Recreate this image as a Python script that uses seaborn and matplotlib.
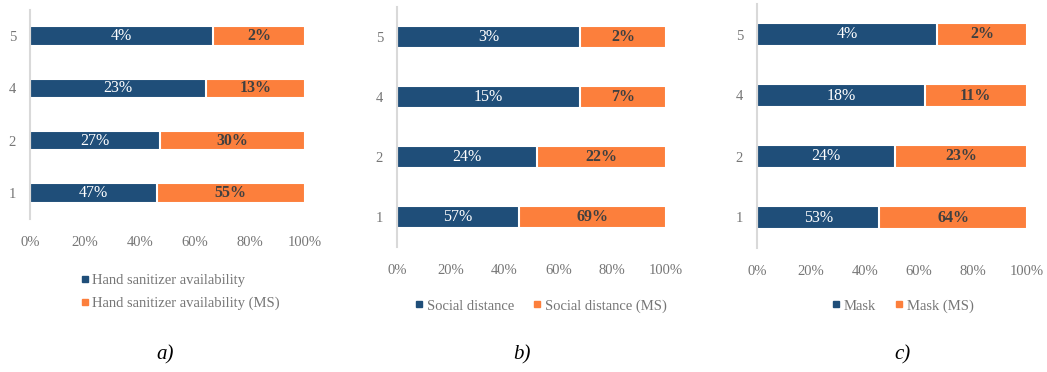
import pandas as pd
import numpy as np
import seaborn as sns
import matplotlib.pyplot as plt
from matplotlib.lines import Line2D

# 数据
ratings = ["5", "4", "2", "1"]
hand = [4, 23, 27, 47]
hand_ms = [2, 13, 30, 55]
social = [3.4, 15, 24, 57]
social_ms = [1.6, 7, 22, 69]
mask = [4, 18, 24, 53]
mask_ms = [2, 11, 23, 64]

panels = [
    ("Hand sanitizer availability", hand, hand_ms, "a)"),
    ("Social distance", social, social_ms, "b)"),
    ("Mask", mask, mask_ms, "c)"),
]

blue = "#1F4E79"
orange = "#FC7F3C"
grey_txt = "#767676"

sns.set_theme(style="white")
plt.rcParams["font.family"] = ["Liberation Serif", "DejaVu Serif"]

fig = plt.figure(figsize=(10.47, 3.72), dpi=100)

# 各子图位置 (figure 坐标)
boxes = [
    [30 / 1047, 1 - 219 / 372, 275 / 1047, 209 / 372],
    [397 / 1047, 1 - 247 / 372, 269 / 1047, 240 / 372],
    [757 / 1047, 1 - 248 / 372, 270 / 1047, 244 / 372],
]
legend_pos = [(66 / 1047, 1 - 292 / 372), (540 / 1047, 1 - 306 / 372), (902 / 1047, 1 - 306 / 372)]
caption_x = [165, 522, 902]

for i, (name, v1, v2, cap) in enumerate(panels):
    df = pd.DataFrame({"rating": ratings, "a": v1, "b": v2})
    df["share"] = df["a"] / (df["a"] + df["b"]) * 100
    df["total"] = 100.0

    ax = fig.add_axes(boxes[i])
    sns.barplot(data=df, x="total", y="rating", order=ratings, color=orange,
                width=0.37, edgecolor="white", linewidth=1.5, saturation=1, ax=ax)
    sns.barplot(data=df, x="share", y="rating", order=ratings, color=blue,
                width=0.37, edgecolor="white", linewidth=1.5, saturation=1, ax=ax)

    for j, row in df.iterrows():
        ax.text(row["share"] / 2, j, f"{row['a']:.0f}%", ha="center", va="center",
                color="white", fontsize=11.5)
        ax.text((row["share"] + 100) / 2, j, f"{row['b']:.0f}%", ha="center", va="center",
                color="#404040", fontsize=11.5, fontweight="bold")

    ax.set_xlim(0, 100)
    ax.set_xticks(np.arange(0, 101, 20))
    ax.set_xticklabels([f"{t}%" for t in range(0, 101, 20)])
    ax.set(xlabel=None, ylabel=None)
    ax.tick_params(axis="both", colors=grey_txt, labelsize=10.5, length=0)
    ax.tick_params(axis="x", pad=12)
    ax.tick_params(axis="y", pad=10)
    for s in ["top", "right", "bottom"]:
        ax.spines[s].set_visible(False)
    ax.spines["left"].set_color("#D9D9D9")
    ax.spines["left"].set_linewidth(1.5)

    handles = [
        Line2D([], [], marker="s", linestyle="none", color=blue, markersize=4),
        Line2D([], [], marker="s", linestyle="none", color=orange, markersize=4),
    ]
    labels = [name, name + " (MS)"]
    if i == 0:
        fig.legend(handles, labels, loc="center left", bbox_to_anchor=legend_pos[i],
                   ncol=1, frameon=False, fontsize=10.5, labelcolor=grey_txt,
                   handletextpad=0.1, handlelength=0.8, labelspacing=0.7)
    else:
        fig.legend(handles, labels, loc="center", bbox_to_anchor=legend_pos[i],
                   ncol=2, frameon=False, fontsize=10.5, labelcolor=grey_txt,
                   handletextpad=0.1, handlelength=0.8, columnspacing=1.2)

    fig.text(caption_x[i] / 1047, 1 - 355 / 372, cap, ha="center", va="center",
             fontsize=15, style="italic", color="black")

fig.savefig("out.png", dpi=100)
